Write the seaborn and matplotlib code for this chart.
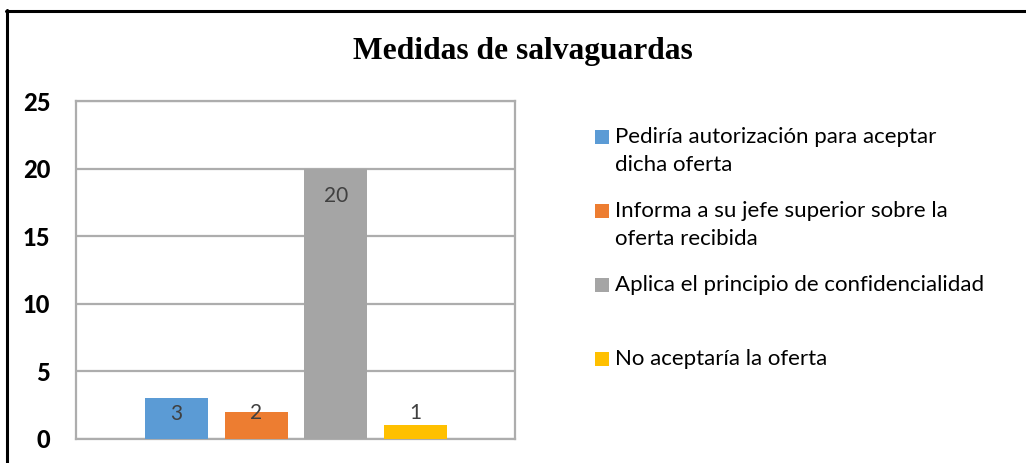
import matplotlib
matplotlib.use("Agg")
import matplotlib.pyplot as plt
import seaborn as sns
from matplotlib.patches import Rectangle
from matplotlib.lines import Line2D

categories = [
    "Pedir\u00eda autorizaci\u00f3n para aceptar\ndicha oferta",
    "Informa a su jefe superior sobre la\noferta recibida",
    "Aplica el principio de confidencialidad",
    "No aceptar\u00eda la oferta",
]
values = [3, 2, 20, 1]
colors = ["#5B9BD5", "#ED7D31", "#A5A5A5", "#FFC000"]
title = "Medidas de salvaguardas"
yticks = [0, 5, 10, 15, 20, 25]

sns.set_theme(style="white")
plt.rcParams["font.family"] = ["Lato", "DejaVu Sans"]

fig = plt.figure(figsize=(10.26, 4.63), dpi=100)
ax = fig.add_axes([76/1026, 24/463, 439/1026, 338/463])

sns.barplot(x=list(range(len(values))), y=values, hue=list(range(len(values))),
            palette=colors, width=0.79, legend=False, ax=ax, saturation=1,
            edgecolor="none", linewidth=0, zorder=3)

ax.set_xlim(-1.256, 4.244)
ax.set_ylim(0, 25)
ax.set_yticks(yticks)
ax.set_yticklabels([str(t) for t in yticks], fontsize=17, fontweight=900, color="black")
ax.tick_params(axis="y", length=0, pad=18.5)
ax.set_xticks([])
ax.set_xlabel("")
ax.set_ylabel("")
gridc = "#ADADAD"
ax.yaxis.grid(True, color=gridc, linewidth=1.6, zorder=0)
ax.set_axisbelow(True)
for s in ax.spines.values():
    s.set_visible(True)
    s.set_color(gridc)
    s.set_linewidth(1.6)

# data labels
offsets_px = [-16, -1, -27, 12]
for i, (v, off) in enumerate(zip(values, offsets_px)):
    ax.annotate(str(v), xy=(i, v), xytext=(0, off * 72 / 100), textcoords="offset points",
                ha="center", va="center", fontsize=15, color="#404040", zorder=5)

# title
fig.text(523/1026, 1 - 51/463, title, ha="center", va="center", fontsize=22.7,
         fontweight="bold", family=["Liberation Serif", "DejaVu Serif"], color="black")

# legend (manual)
for i, (lab, c) in enumerate(zip(categories, colors)):
    yc = [137, 211, 285, 359][i]
    fig.patches.append(Rectangle((595/1026, 1 - (yc + 7)/463), 14/1026, 14/463,
                                 transform=fig.transFigure, facecolor=c, edgecolor="none"))
    for j, line in enumerate(lab.split("\n")):
        fig.text(615/1026, 1 - (yc + 28*j)/463, line, ha="left", va="center",
                 fontsize=16, color="black")

# outer frame (top and left)
fig.add_artist(Line2D([6/1026, 1.0], [1 - 11/463, 1 - 11/463], transform=fig.transFigure,
                      color="black", linewidth=2.2))
fig.add_artist(Line2D([7/1026, 7/1026], [0, 1 - 10/463], transform=fig.transFigure,
                      color="black", linewidth=2.2))

fig.savefig("out.png", dpi=100, facecolor="white")
